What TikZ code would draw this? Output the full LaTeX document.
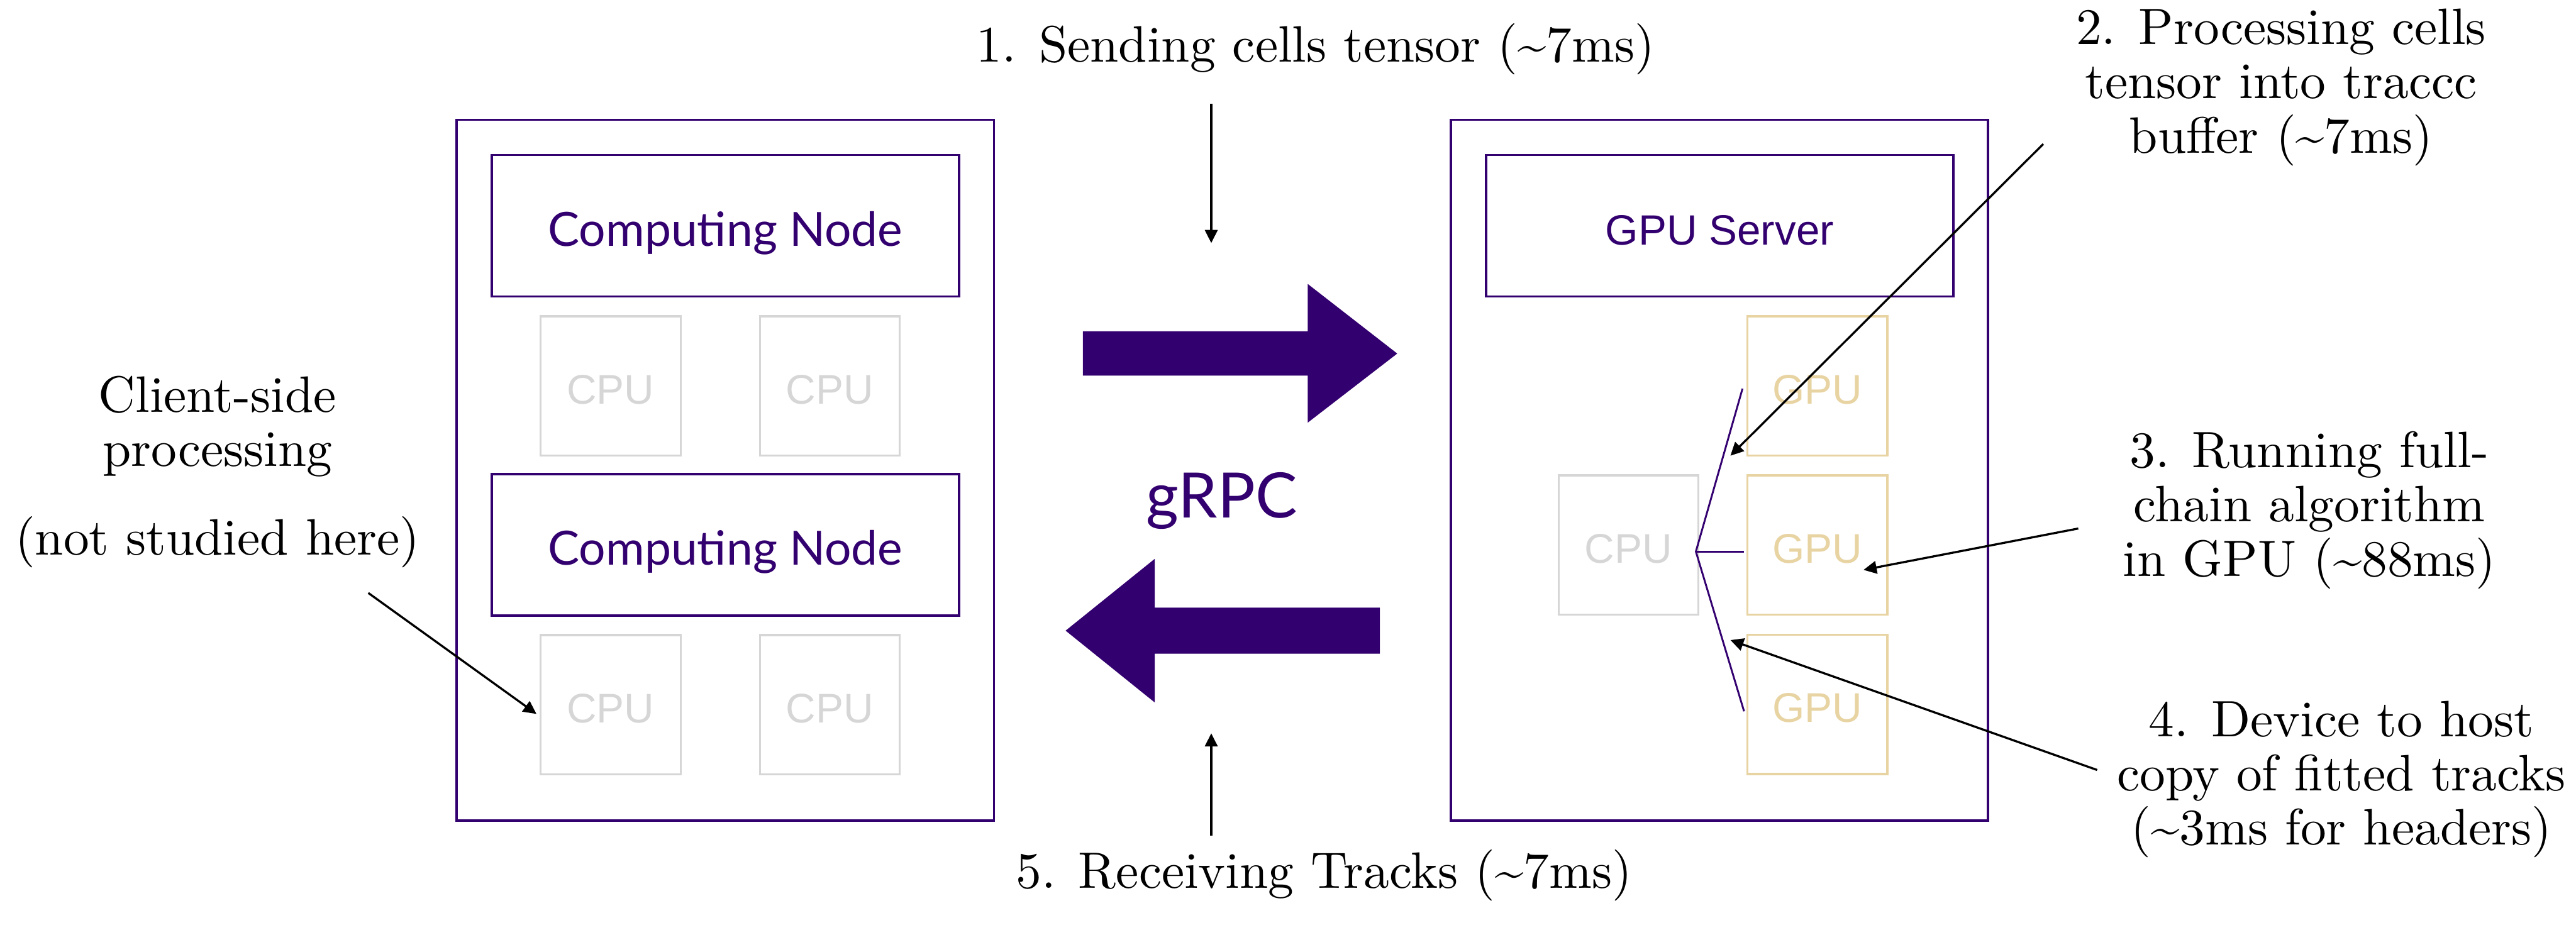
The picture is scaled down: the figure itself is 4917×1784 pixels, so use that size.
\documentclass[tikz,border=0pt]{standalone}
\usepackage{fontspec}
\setmainfont{lmroman10-regular}[Extension=.otf]
\newfontfamily\latofont{Lato}
\newfontfamily\arialfont{Liberation Sans}
\usetikzlibrary{arrows.meta}
\definecolor{uwpurple}{HTML}{33006F}
\definecolor{cpugray}{HTML}{D6D6D6}
\definecolor{gpugold}{HTML}{E8D3A2}
\newcommand{\notelines}[1]{\begin{tabular}[t]{@{}c@{}}#1\end{tabular}}
\newcommand{\tld}{\textasciitilde}
\begin{document}
\begin{tikzpicture}[x=0.01cm,y=-0.01cm,
  outerbox/.style={draw=uwpurple, line width=0.045cm, minimum width=10.25cm, minimum height=13.37cm, inner sep=0pt},
  headbox/.style={draw=uwpurple, line width=0.045cm, minimum width=8.91cm, minimum height=2.70cm, inner sep=0pt, text=uwpurple, text depth=0pt},
  cnbox/.style={headbox, font=\latofont\fontsize{25.6pt}{30pt}\selectfont, text height=0.78cm},
  gsbox/.style={headbox, font=\arialfont\fontsize{23pt}{28pt}\selectfont, text height=0.74cm},
  cpubox/.style={draw=cpugray, line width=0.04cm, minimum width=2.67cm, minimum height=2.66cm, inner sep=0pt, text=cpugray, font=\arialfont\fontsize{22.5pt}{27pt}\selectfont, text height=0.68cm, text depth=0pt},
  gpubox/.style={cpubox, draw=gpugold, text=gpugold},
  note/.style={inner sep=0pt, anchor=base, font=\fontsize{27.8pt}{29.3pt}\selectfont},
  pointer/.style={draw=black, line width=0.04cm, -{Triangle[length=0.25cm,width=0.24cm]}},
  fat/.style={fill=uwpurple, draw=none},
  bracket/.style={draw=uwpurple, line width=0.035cm},
]
\useasboundingbox (0,0) rectangle (4917,1784);

% client side
\node[outerbox] (client) at (1384.5,897.5) {};
\node[cnbox] (cn1) at (1384.5,431) {Computing Node};
\node[cnbox] (cn2) at (1384.5,1040) {Computing Node};
\node[cpubox] (c1) at (1165.5,737) {CPU};
\node[cpubox] (c2) at (1584,737) {CPU};
\node[cpubox] (c3) at (1165.5,1345.5) {CPU};
\node[cpubox] (c4) at (1584,1345.5) {CPU};

% server side
\node[outerbox] (server) at (3282,897.5) {};
\node[gsbox] (gs) at (3282.5,431) {GPU Server};
\node[cpubox] (cs) at (3108.5,1040.5) {CPU};
\node[gpubox] (g1) at (3469,737) {GPU};
\node[gpubox] (g2) at (3469,1040.5) {GPU};
\node[gpubox] (g3) at (3469,1344.5) {GPU};

% bracket CPU -> GPUs
\coordinate (bj) at (3237,1053);
\coordinate (bu) at (3326,742);
\coordinate (bm) at (3329,1053);
\coordinate (bl) at (3329,1358);
\draw[bracket] (bu) -- (bj) -- (bl);
\draw[bracket] (bj) -- (bm);

% gRPC arrows
\fill[fat] (2067,632.5) -- (2496,632.5) -- (2496,542) -- (2667,675) -- (2496,807) -- (2496,717) -- (2067,717) -- cycle;
\fill[fat] (2634,1160) -- (2204,1160) -- (2204,1067) -- (2034,1204) -- (2204,1341) -- (2204,1248) -- (2634,1248) -- cycle;
\node[inner sep=0pt, anchor=base, text=uwpurple, font=\latofont\fontsize{34pt}{40pt}\selectfont] (grpc) at (2332,988) {gRPC};

% labels
\node[note] (t1) at (2511,118) {1. Sending cells tensor (\tld7ms)};
\node[note] (t5) at (2527,1695) {5. Receiving Tracks (\tld7ms)};
\node[note] (tc) at (415,787) {\notelines{Client-side\\processing\\[0.65cm](not studied here)}};
\node[note] (t2) at (4354,85) {\notelines{2. Processing cells\\tensor into traccc\\buffer (\tld7ms)}};
\node[note] (t3) at (4408,893) {\notelines{3. Running full-\\chain algorithm\\in GPU (\tld88ms)}};
\node[note] (t4) at (4469,1406) {\notelines{4. Device to host\\copy of fitted tracks\\(\tld3ms for headers)}};

% pointers
\coordinate (p1s) at (2312,198);  \coordinate (p1e) at (2312,464);
\coordinate (p5s) at (2312,1595); \coordinate (p5e) at (2312,1400);
\coordinate (pcs) at (703,1132);  \coordinate (pce) at (1024,1363);
\coordinate (p2s) at (3900,275);  \coordinate (p2e) at (3303,870);
\coordinate (p3s) at (3967,1009); \coordinate (p3e) at (3557,1088);
\coordinate (p4s) at (4003,1470); \coordinate (p4e) at (3303,1222);
\draw[pointer] (p1s) -- (p1e);
\draw[pointer] (p5s) -- (p5e);
\draw[pointer] (pcs) -- (pce);
\draw[pointer] (p2s) -- (p2e);
\draw[pointer] (p3s) -- (p3e);
\draw[pointer] (p4s) -- (p4e);
\end{tikzpicture}
\end{document}
